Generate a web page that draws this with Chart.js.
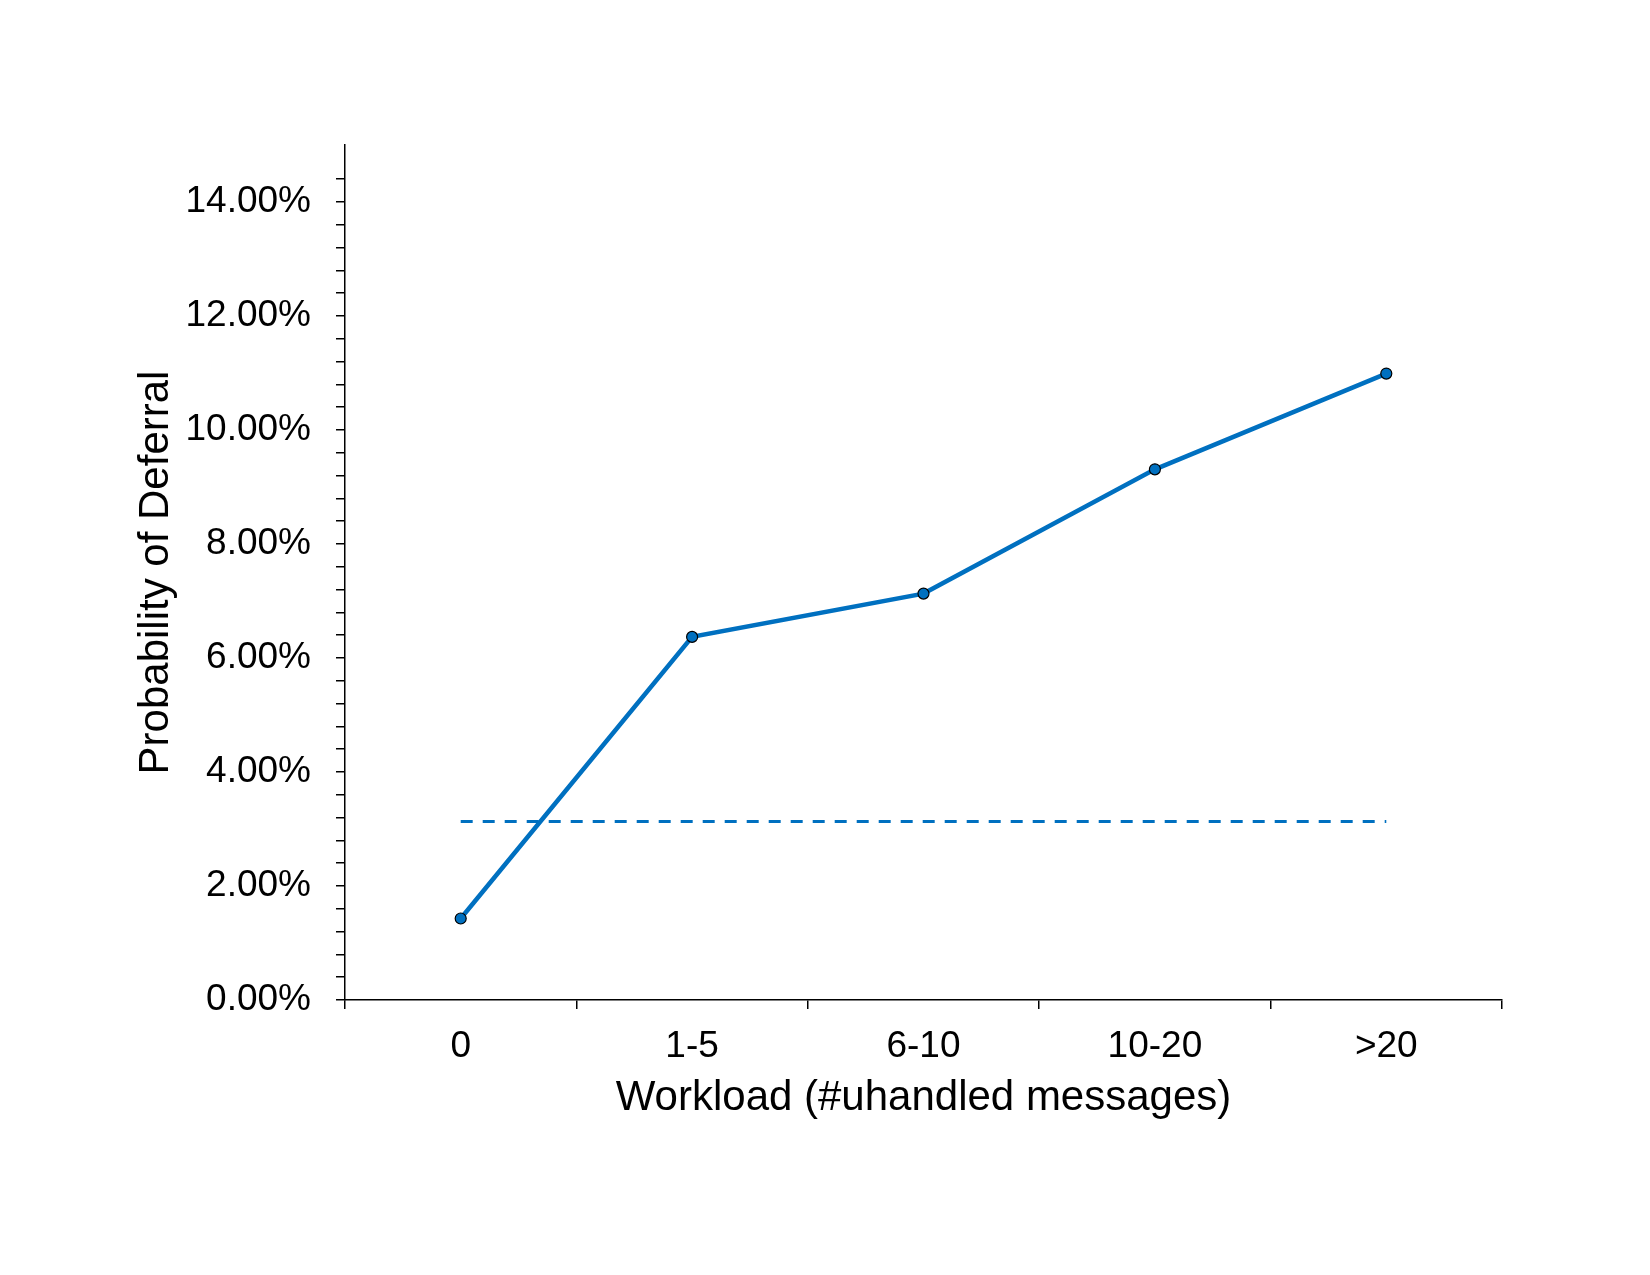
<!DOCTYPE html>
<html>
<head>
<meta charset="utf-8">
<script src="https://cdn.jsdelivr.net/npm/chart.js@4"></script>
<style>
  body { margin: 0; background: #fff; }
  canvas { display: block; }
</style>
</head>
<body>
<canvas id="c" width="1650" height="1275"></canvas>
<script>
var categories = ['0', '1-5', '6-10', '10-20', '>20'];
var deferral = [1.43, 6.37, 7.13, 9.31, 10.99];
var baseline = [3.13, 3.13, 3.13, 3.13, 3.13];
var yMax = 15;
var yStep = 0.4;

var blue = '#0070C0';
var font = 'Liberation Sans, Arial, sans-serif';

var ctx = document.getElementById('c').getContext('2d');
var chart = new Chart(ctx, {
    type: 'line',
    data: {
        labels: categories,
        datasets: [{
                label: 'Deferral',
                data: deferral,
                borderColor: blue,
                backgroundColor: blue,
                borderWidth: 4.5,
                pointRadius: 5.5,
                pointBackgroundColor: blue,
                pointBorderColor: '#000',
                pointBorderWidth: 1.2,
                tension: 0
            },
            {
                label: 'Average',
                data: baseline,
                borderColor: blue,
                borderWidth: 3,
                borderDash: [12, 10],
                pointRadius: 0,
                fill: false
            }]
    },
    options: {
        responsive: false,
        animation: false,
        layout: {padding: {left: 110, top: 145, right: 148, bottom: 145}},
        plugins: {legend: {display: false}, tooltip: {enabled: false}},
        scales: {
            x: {
                offset: true,
                grid: {offset: true, drawOnChartArea: false, tickLength: 9, color: '#000', lineWidth: 1.5},
                border: {color: '#000', width: 1.5},
                ticks: {color: '#000', font: {family: font, size: 37}, padding: 16},
                title: {display: true, text: 'Workload (#uhandled messages)', color: '#000',
                    font: {family: font, size: 42}, padding: {top: 0, bottom: 6}},
                afterFit: function (s) { s.height = 130; }
            },
            y: {
                min: 0,
                max: yMax,
                afterBuildTicks: function (s) {
                    s.ticks = s.ticks.filter(function (t) { return t.value < yMax - 0.1; });
                },
                grid: {drawOnChartArea: false, tickLength: 9, color: '#000', lineWidth: 1.5},
                border: {color: '#000', width: 1.5},
                ticks: {
                    stepSize: yStep,
                    color: '#000',
                    font: {family: font, size: 37},
                    padding: 25,
                    autoSkip: false,
                    callback: function (v) {
                        var r = v / 2;
                        if (Math.abs(r - Math.round(r)) < 1e-6) return v.toFixed(2) + '%';
                        return '';
                    }
                },
                title: {display: true, text: 'Probability of Deferral', color: '#000',
                    font: {family: font, size: 42}, padding: {top: 21, bottom: 0}},
                afterFit: function (s) { s.width = 345 - 110; }
            }
        }
    }
});
</script>
</body>
</html>
